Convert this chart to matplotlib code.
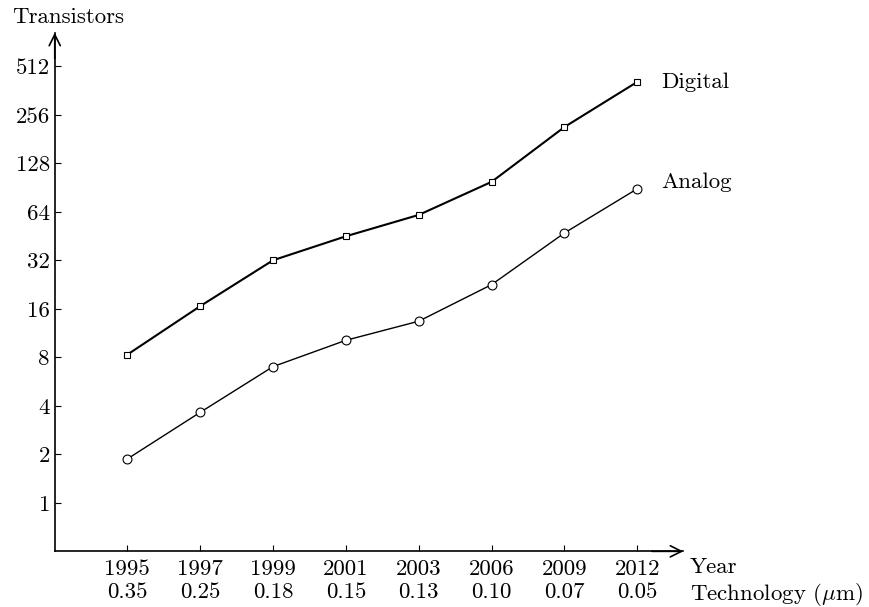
import matplotlib
matplotlib.use("Agg")
import matplotlib.pyplot as plt
import numpy as np

years = ["1995", "1997", "1999", "2001", "2003", "2006", "2009", "2012"]
tech = ["0.35", "0.25", "0.18", "0.15", "0.13", "0.10", "0.07", "0.05"]
digital = [8.3, 16.6, 32.0, 45.1, 61.2, 98.2, 215.0, 410.0]
analog = [1.87, 3.64, 7.0, 10.2, 13.4, 22.6, 47.3, 89.0]
yticks = [1, 2, 4, 8, 16, 32, 64, 128, 256, 512]

plt.rcParams['font.family'] = ['cmr10', 'DejaVu Serif']
plt.rcParams['mathtext.fontset'] = 'cm'
plt.rcParams['axes.unicode_minus'] = False
FS = 16.5
LS = 1.22

fig = plt.figure(figsize=(8.69, 6.07), dpi=100)
ax = fig.add_axes([0.0630, 0.0917, 0.7863 - 0.0630, 0.9461 - 0.0917])
x = np.arange(len(years))

ax.plot(x, digital, color='black', lw=1.5, marker='s', ms=4.8, mfc='white', mec='black', mew=0.8, clip_on=False)
ax.plot(x, analog, color='black', lw=1.0, marker='o', ms=6.4, mfc='white', mec='black', mew=0.8, clip_on=False)

ax.set_yscale('log', base=2)
ax.set_ylim(0.5, 827)
ax.set_xlim(-0.994, 7.63)
ax.set_yticks(yticks)
ax.set_yticklabels([str(v) for v in yticks])
ax.minorticks_off()
ax.set_xticks(x)
ax.set_xticklabels([f"{a}\n{b}" for a, b in zip(years, tech)], linespacing=LS)

ax.tick_params(axis='both', direction='in', labelsize=FS, length=4.2, width=0.8, color='black')
ax.tick_params(axis='y', pad=3.5)
ax.tick_params(axis='x', pad=6)
for s in ['top', 'right']:
    ax.spines[s].set_visible(False)
for s in ['left', 'bottom']:
    ax.spines[s].set_linewidth(1.2)

ax.annotate('', xy=(1.0, 0), xytext=(0.95, 0), xycoords='axes fraction',
            arrowprops=dict(arrowstyle='->', lw=1.2, color='black', mutation_scale=20,
                            shrinkA=0, shrinkB=0), annotation_clip=False)
ax.annotate('', xy=(0, 1.0), xytext=(0, 0.95), xycoords='axes fraction',
            arrowprops=dict(arrowstyle='->', lw=1.2, color='black', mutation_scale=20,
                            shrinkA=0, shrinkB=0), annotation_clip=False)

ax.text(7.33, digital[-1], "Digital", fontsize=FS, ha='left', va='center')
ax.text(7.33, analog[-1] * 1.1, "Analog", fontsize=FS, ha='left', va='center')

tr = ax.get_xaxis_transform()
ax.annotate("Year\nTechnology ($\\mu$m)", xy=(7.72, 0), xycoords=tr,
            xytext=(0, -4.2), textcoords='offset points', fontsize=FS,
            ha='left', va='top', linespacing=LS, annotation_clip=False)
fig.text(12 / 869, 1 - 17 / 607, "Transistors", fontsize=FS, ha='left', va='center')

fig.savefig("out.png", dpi=100)
